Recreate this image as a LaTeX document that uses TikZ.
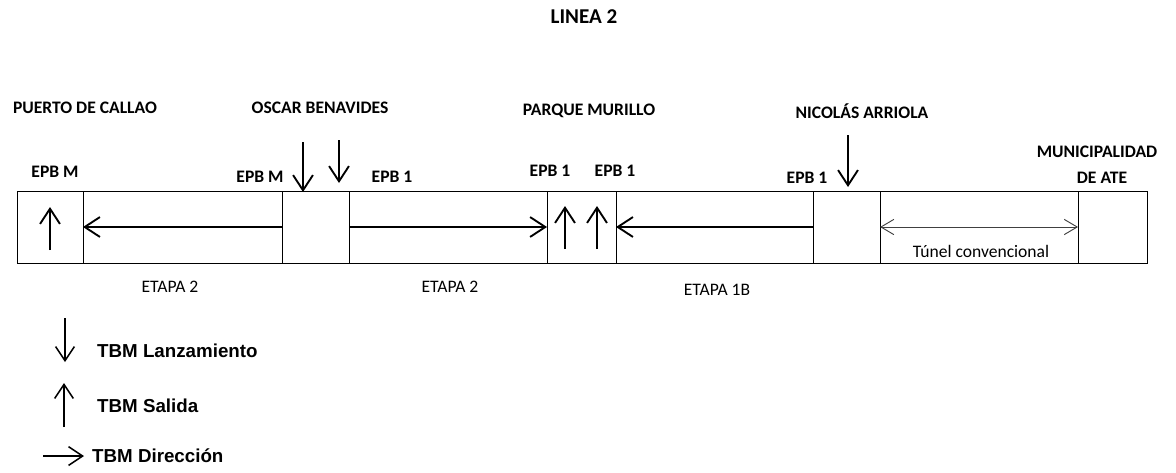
\documentclass[tikz,border=0pt]{standalone}
\usepackage{fontspec}
\setmainfont{Carlito}
\newfontfamily\legfont{Liberation Sans}
\usetikzlibrary{arrows.meta}
\begin{document}
\begin{tikzpicture}[x=0.03cm,y=-0.03cm,
  cell/.style={draw, line width=0.8pt, inner sep=0pt, outer sep=0pt,
    minimum height=2.16cm, anchor=north west},
  lbl/.style={font=\fontsize{15}{17}\selectfont\bfseries, inner sep=0pt, anchor=base},
  etapa/.style={font=\fontsize{15}{17}\selectfont, inner sep=0pt, anchor=base},
  leg/.style={font=\legfont\fontsize{16}{18}\selectfont\bfseries, inner sep=0pt, anchor=base west},
  tbm/.style={line width=1.8pt, -{Straight Barb[length=13pt,width=17pt,line width=1.6pt]}},
  tunel/.style={line width=0.8pt, black!75, {Straight Barb[length=11pt,width=13pt,line width=0.8pt]}-{Straight Barb[length=11pt,width=13pt,line width=0.8pt]}},
  legarrow/.style={line width=1.4pt, -{Straight Barb[length=12pt,width=16pt,line width=1.3pt]}}
]
\useasboundingbox (0,0) rectangle (1176,472);

% title
\node[font=\fontsize{18}{20}\selectfont\bfseries, inner sep=0pt, anchor=base] (title) at (584,23) {LINEA 2};

% bar cells
\node[cell, minimum width=1.98cm] (b1) at (17,191) {};
\node[cell, minimum width=5.97cm] (s1) at (b1.north east) {};
\node[cell, minimum width=2.01cm] (b2) at (s1.north east) {};
\node[cell, minimum width=5.94cm] (s2) at (b2.north east) {};
\node[cell, minimum width=2.07cm] (b3) at (s2.north east) {};
\node[cell, minimum width=5.91cm] (s3) at (b3.north east) {};
\node[cell, minimum width=2.01cm] (b4) at (s3.north east) {};
\node[cell, minimum width=5.94cm] (s4) at (b4.north east) {};
\node[cell, minimum width=2.07cm] (b5) at (s4.north east) {};

% station names
\node[lbl] (puerto) at (85,113) {PUERTO DE CALLAO};
\node[lbl] (oscar) at (320,113) {OSCAR BENAVIDES};
\node[lbl] (parque) at (589,115) {PARQUE MURILLO};
\node[lbl] (nicolas) at (862,118) {NICOLÁS ARRIOLA};
\node[lbl] (muni) at (1097,157) {MUNICIPALIDAD};
\node[lbl] (ate) at (1102,183) {DE ATE};

% machine labels
\node[lbl] (e1) at (55,177) {EPB M};
\node[lbl] (e2) at (260,182) {EPB M};
\node[lbl] (e3) at (392,182) {EPB 1};
\node[lbl] (e4) at (550,176) {EPB 1};
\node[lbl] (e5) at (615,176) {EPB 1};
\node[lbl] (e6) at (807,183) {EPB 1};

% direction arrows in segments
\draw[tbm] (s1.east) -- (s1.west);
\draw[tbm] (s2.west) -- (s2.east);
\draw[tbm] (s3.east) -- (s3.west);
\draw[tunel] (s4.west) -- (s4.east);

% stage labels
\node[etapa] (et1) at (170,292) {ETAPA 2};
\node[etapa] (et2) at (450,292) {ETAPA 2};
\node[etapa] (et3) at (717,295) {ETAPA 1B};
\node[etapa] (tun) at (981,257) {Túnel convencional};

% launch arrows (down)
\coordinate (l1) at (303,142);
\coordinate (l2) at (339,140);
\coordinate (l3) at (848,135);
\coordinate (l1e) at (303,192);
\coordinate (l2e) at (339,183);
\coordinate (l3e) at (848,187);
\draw[tbm] (l1) -- (l1e);
\draw[tbm] (l2) -- (l2e);
\draw[tbm] (l3) -- (l3e);

% exit arrows (up)
\coordinate (x1) at (50,250);
\coordinate (x1e) at (50,207);
\coordinate (x2) at (565,249);
\coordinate (x2e) at (565,206);
\coordinate (x3) at (597,249);
\coordinate (x3e) at (597,206);
\draw[tbm] (x1) -- (x1e);
\draw[tbm] (x2) -- (x2e);
\draw[tbm] (x3) -- (x3e);

% legend
\coordinate (ld) at (65,318);
\coordinate (lde) at (65,362);
\coordinate (lu) at (64,427);
\coordinate (lue) at (64,383);
\coordinate (lr) at (43,456);
\coordinate (lre) at (84,456);
\draw[legarrow] (ld) -- (lde);
\draw[legarrow] (lu) -- (lue);
\draw[legarrow] (lr) -- (lre);
\node[leg] (lt1) at (97,357) {TBM Lanzamiento};
\node[leg] (lt2) at (97,412) {TBM Salida};
\node[leg] (lt3) at (92,462) {TBM Dirección};
\end{tikzpicture}
\end{document}
